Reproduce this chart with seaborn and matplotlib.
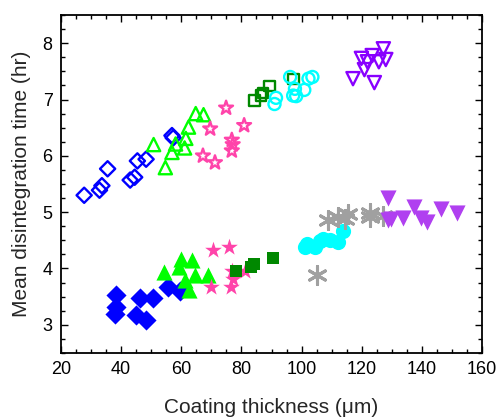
import numpy as np
import pandas as pd
import seaborn as sns
import matplotlib
matplotlib.use("Agg")
import matplotlib.pyplot as plt
from matplotlib.ticker import MultipleLocator

# ---- data (coating thickness in um, mean disintegration time in hr) ----
open_diamond_x = [27.7, 32.8, 33.6, 35.5, 43.0, 44.5, 45.4, 48.3, 56.9, 57.3]
open_diamond_y = [5.30, 5.39, 5.47, 5.77, 5.57, 5.62, 5.91, 5.94, 6.36, 6.32]

open_tri_x = [50.8, 54.7, 56.9, 58.1, 61.1, 61.5, 62.4, 64.8, 67.4]
open_tri_y = [6.20, 5.79, 6.06, 6.21, 6.14, 6.31, 6.51, 6.75, 6.73]

open_star_x = [74.9, 69.6, 80.9, 76.8, 77.1, 76.8, 67.2, 71.2]
open_star_y = [6.85, 6.48, 6.54, 6.28, 6.20, 6.09, 6.00, 5.88]

open_square_x = [84.3, 86.4, 87.2, 89.3, 97.3]
open_square_y = [6.98, 7.07, 7.11, 7.24, 7.36]

open_circle_x = [96.2, 91.5, 91.0, 97.8, 97.2, 98.2, 100.9, 102.3, 103.6]
open_circle_y = [7.40, 7.03, 6.92, 7.19, 7.07, 7.06, 7.17, 7.37, 7.40]

open_down_x = [127.2, 119.9, 123.5, 121.9, 125.7, 128.0, 120.9, 117.1, 124.2]
open_down_y = [7.90, 7.73, 7.78, 7.67, 7.67, 7.71, 7.53, 7.37, 7.30]

fill_diamond_x = [38.4, 38.4, 38.0, 45.0, 48.2, 46.4, 50.6, 55.6, 59.5]
fill_diamond_y = [3.53, 3.31, 3.20, 3.18, 3.08, 3.47, 3.47, 3.68, 3.60]

fill_tri_x = [60.0, 63.5, 59.1, 54.4, 61.3, 64.5, 69.0, 62.7]
fill_tri_y = [4.17, 4.15, 4.02, 3.93, 3.80, 3.88, 3.89, 3.61]

fill_star_x = [70.7, 76.0, 70.0, 76.5, 77.1, 77.0, 81.2]
fill_star_y = [4.33, 4.39, 3.68, 3.67, 3.82, 3.95, 3.96]

fill_square_x = [78.1, 83.2, 84.3, 90.6]
fill_square_y = [3.96, 4.02, 4.08, 4.19]

fill_circle_x = [101.2, 101.9, 104.5, 106.0, 107.1, 109.4, 112.2, 113.9]
fill_circle_y = [4.38, 4.44, 4.39, 4.49, 4.53, 4.50, 4.47, 4.66]

asterisk_x = [108.9, 112.0, 114.4, 115.5, 122.6, 122.8, 127.2, 105.2]
asterisk_y = [4.86, 4.91, 4.88, 4.97, 4.99, 4.91, 4.94, 3.89]

fill_down_x = [128.6, 128.6, 129.9, 133.8, 137.4, 139.7, 141.6, 146.2, 151.6]
fill_down_y = [5.25, 4.86, 4.87, 4.90, 5.10, 4.90, 4.83, 5.06, 4.99]

x_ticks = [20, 40, 60, 80, 100, 120, 140, 160]
y_ticks = [3, 4, 5, 6, 7, 8]

sns.set_theme(style="ticks")
plt.rcParams['font.family'] = ['Liberation Sans', 'DejaVu Sans']

fig = plt.figure(figsize=(5.0, 4.17), dpi=100)
ax = fig.add_axes([0.122, 0.1535, 0.842, 0.8105])

BLUE = "#0000FF"
LIME = "#00FF00"
PINK = "#FF44AA"
DKGREEN = "#008800"
CYAN = "#00FFFF"
VIOLET = "#8800FF"
LPURPLE = "#B040F0"
GRAY = "#A0A0A0"

def open_pts(x, y, marker, color, s):
    sns.scatterplot(x=x, y=y, marker=marker, s=s, facecolors="none",
                    edgecolor=color, linewidth=1.7, ax=ax, zorder=3)

def fill_pts(x, y, marker, color, s, lw=0.0):
    sns.scatterplot(x=x, y=y, marker=marker, s=s, color=color,
                    edgecolor=color, linewidth=lw, ax=ax, zorder=3)

open_pts(open_diamond_x, open_diamond_y, "D", BLUE, 60)
open_pts(open_tri_x, open_tri_y, "^", LIME, 90)
open_pts(open_star_x, open_star_y, "*", PINK, 110)
open_pts(open_square_x, open_square_y, "s", DKGREEN, 55)
open_pts(open_circle_x, open_circle_y, "o", CYAN, 75)
open_pts(open_down_x, open_down_y, "v", VIOLET, 90)

fill_pts(fill_diamond_x, fill_diamond_y, "D", BLUE, 105)
fill_pts(fill_tri_x, fill_tri_y, "^", LIME, 135)
fill_pts(fill_star_x, fill_star_y, "*", PINK, 160)
fill_pts(fill_square_x, fill_square_y, "s", DKGREEN, 85)
fill_pts(fill_circle_x, fill_circle_y, "o", CYAN, 120)
sns.scatterplot(x=asterisk_x, y=asterisk_y, marker=(6, 2, 0), s=170,
                color=GRAY, edgecolor=GRAY, linewidth=2.2, ax=ax, zorder=3)
fill_pts(fill_down_x, fill_down_y, "v", LPURPLE, 135)

ax.set_xlim(20, 160)
ax.set_ylim(2.5, 8.5)
ax.set_xticks(x_ticks)
ax.set_yticks(y_ticks)
ax.xaxis.set_minor_locator(MultipleLocator(5))
ax.yaxis.set_minor_locator(MultipleLocator(0.25))
ax.tick_params(which="both", direction="in", top=True, right=True,
               width=1.0, colors="black", labelsize=13, pad=6)
ax.tick_params(which="major", length=5)
ax.tick_params(which="minor", length=3)
for sp in ax.spines.values():
    sp.set_linewidth(1.3)
    sp.set_color("black")
    sp.set_visible(True)

ax.set_xlabel("Coating thickness (\u03bcm)", fontsize=15, labelpad=14)
ax.set_ylabel("Mean disintegration time (hr)", fontsize=15, labelpad=8)

fig.savefig("out.png", dpi=100)
